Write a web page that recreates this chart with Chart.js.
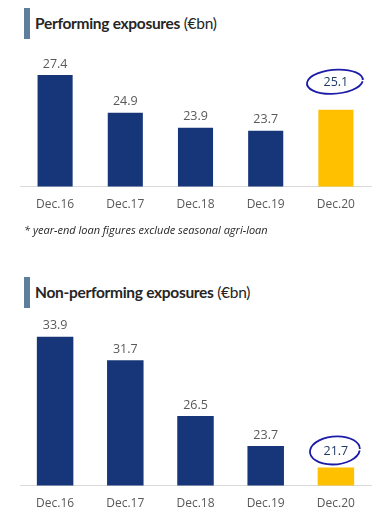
<!DOCTYPE html>
<html><head><meta charset="utf-8">
<script src="https://cdn.jsdelivr.net/npm/chart.js@4/dist/chart.umd.min.js"></script>
<style>
html,body{margin:0;padding:0;background:#fff;width:383px;height:515px;overflow:hidden;font-family:"Open Sans",sans-serif;}
.title{position:absolute;left:24px;height:31px;border-left:6px solid #5d7f9c;padding-left:5px;font-family:Lato,sans-serif;font-size:15.5px;line-height:31px;color:#262626;white-space:nowrap;letter-spacing:-0.3px}
.title b{font-weight:700}
.note{position:absolute;left:24px;top:222px;font-size:11px;font-style:italic;color:#262626;white-space:nowrap;letter-spacing:0px}
.box{position:absolute;left:0;width:383px}
</style></head><body>
<div class="title" style="top:8px"><b>Performing exposures</b> (€bn)</div>
<div class="box" style="top:45px;height:178px"><canvas id="c1"></canvas></div>
<div class="note">* year-end loan figures exclude seasonal agri-loan</div>
<div class="title" style="top:277px"><b>Non-performing exposures</b> (€bn)</div>
<div class="box" style="top:310px;height:212px"><canvas id="c2"></canvas></div>
<script>
const categories = ["Dec.16","Dec.17","Dec.18","Dec.19","Dec.20"];
const performing = [27.4, 24.9, 23.9, 23.7, 25.1];
const nonPerforming = [33.9, 31.7, 26.5, 23.7, 21.7];
const highlightIndex = 4;

const NAVY = "#17367a", YELLOW = "#ffc000";

const labelPlugin = {
  id: "valLabels",
  afterDatasetsDraw(chart, args, opts) {
    const ctx = chart.ctx;
    const meta = chart.getDatasetMeta(0);
    const data = chart.data.datasets[0].data;
    ctx.save();
    ctx.font = "12.5px 'Open Sans', sans-serif";
    ctx.textAlign = "center";
    ctx.textBaseline = "middle";
    meta.data.forEach((bar, i) => {
      const hl = i === highlightIndex;
      const y = bar.y - (hl ? opts.hlOffset : opts.offset);
      ctx.fillStyle = hl ? "#1f3864" : "#595959";
      ctx.fillText(data[i].toFixed(1), bar.x, y);
      if (hl) {
        ctx.strokeStyle = "#1c1ca8";
        ctx.lineWidth = 1.8;
        ctx.beginPath();
        ctx.ellipse(bar.x - 1, y - 1, opts.rx, opts.ry, -0.08, 0.15, Math.PI * 2 + 0.05);
        ctx.stroke();
      }
    });
    ctx.restore();
  }
};

function make(id, values, max, padTop, hlOffset, rx, ry, barPct) {
  return new Chart(document.getElementById(id), {
    type: "bar",
    data: {
      labels: categories,
      datasets: [{
        data: values,
        backgroundColor: values.map((v, i) => i === highlightIndex ? YELLOW : NAVY),
        barPercentage: barPct,
        categoryPercentage: 1.0
      }]
    },
    options: {
      responsive: true,
      maintainAspectRatio: false,
      animation: false,
      layout: { padding: { top: padTop, left: 20, right: 12, bottom: 0 } },
      plugins: {
        legend: { display: false },
        tooltip: { enabled: false },
        valLabels: { offset: 11, hlOffset: hlOffset, rx: rx, ry: ry }
      },
      scales: {
        y: { display: false, min: 20, max: max },
        x: {
          grid: { display: false, drawTicks: false },
          border: { display: true, color: "#d9d9d9", width: 1 },
          ticks: { color: "#595959", font: { family: "'Open Sans', sans-serif", size: 12 }, padding: 11 }
        }
      }
    },
    plugins: [labelPlugin]
  });
}
make("c1", performing, 28, 21, 27, 28, 12, 0.5);
make("c2", nonPerforming, 35, 15, 16, 25, 14, 0.52);
</script>
</body></html>
